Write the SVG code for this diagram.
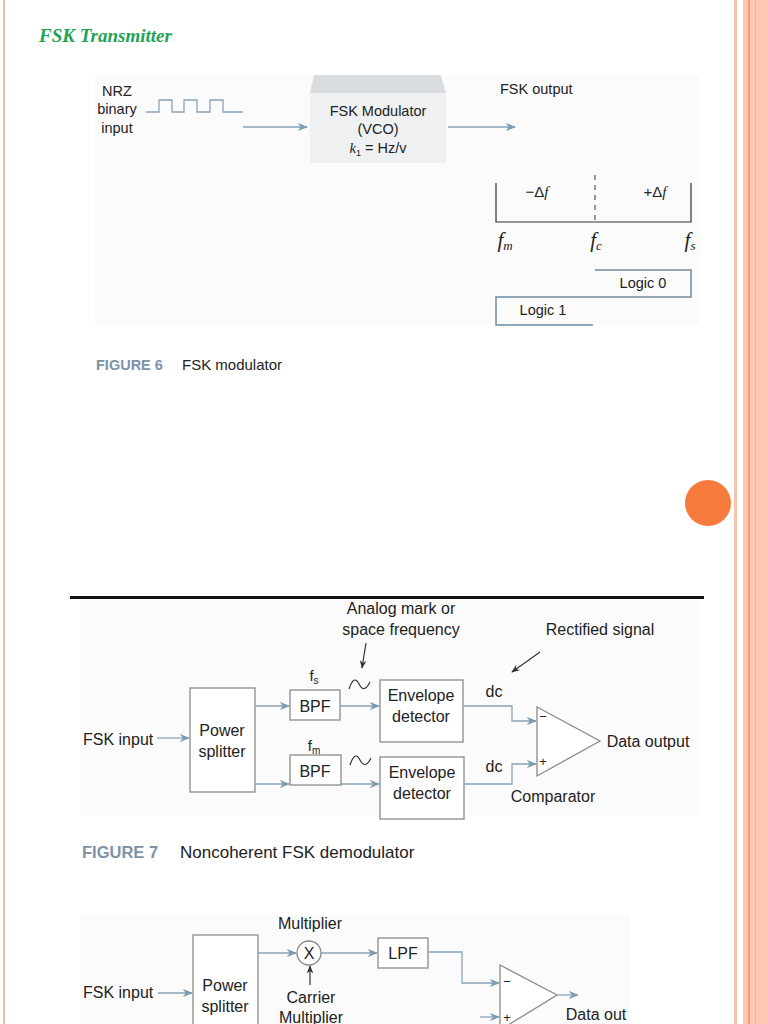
<svg xmlns="http://www.w3.org/2000/svg" width="768" height="1024" viewBox="0 0 768 1024" font-size="14">
<style>
text{font-family:"Liberation Sans",Arial,sans-serif;fill:#222}
.c{text-anchor:middle}
.box{fill:#fff;stroke:#8a8a8a;stroke-width:1.3}
.ln{fill:none;stroke:#8aa3b5;stroke-width:1.3}
.k{fill:none;stroke:#333;stroke-width:1.2}
.cap{fill:#7d93a6;font-weight:bold}
.i{font-family:"Liberation Serif",serif;font-style:italic}
.m{font-size:16px}
</style>
<defs>
<marker id="a" viewBox="0 0 10 10" refX="9" refY="5" markerWidth="8" markerHeight="8" orient="auto"><path d="M0,1L10,5L0,9L3,5z" fill="#7f9bb0"/></marker>
<marker id="b" viewBox="0 0 10 10" refX="9" refY="5" markerWidth="7" markerHeight="7" orient="auto"><path d="M0,1L10,5L0,9L3,5z" fill="#333"/></marker>
</defs>
<rect width="768" height="1024" fill="#fff"/>
<rect x="3" y="0" width="2" height="1024" fill="#f7b9a6"/>
<rect x="734" y="0" width="3" height="1024" fill="#f7c3b3"/>
<rect x="743" y="0" width="25" height="1024" fill="#fdc8b6"/>
<rect x="748" y="0" width="2" height="1024" fill="#f4a070"/>
<rect x="755" y="0" width="1" height="1024" fill="#f3b09a"/>
<text x="39" y="42" style="font-family:'Liberation Serif',serif;font-style:italic;font-weight:bold;font-size:19px;fill:#1fa355">FSK Transmitter</text>

<g id="fig6">
<rect x="95" y="75" width="605" height="250" fill="#fbfbfb"/>
<g id="nrz"><text x="117" y="96" class="c" font-size="14.5">NRZ</text><text x="117" y="114" class="c" font-size="14.5">binary</text><text x="117" y="133" class="c" font-size="14.5">input</text>
<path class="ln" stroke-width="1.6" d="M146,112H159V100H172V112H184V100H197V112H210V100H223V112H243"/></g>
<g id="mod"><rect x="310" y="93" width="136" height="70" fill="#eef0f2"/><path d="M314,75H441L446,93H310z" fill="#dadde0"/>
<text x="378" y="116" class="c" font-size="14.5">FSK Modulator</text><text x="378" y="134" class="c" font-size="14.5">(VCO)</text><text x="378" y="153" class="c" font-size="14.5"><tspan class="i">k</tspan><tspan font-size="9" dy="3">1</tspan><tspan dy="-3"> = Hz/v</tspan></text></g>
<text x="500" y="94" font-size="14.5">FSK output</text>
<g id="spec">
<path class="k" d="M496,183V222H691V183"/>
<path d="M595,175V222" stroke="#333" stroke-width="1" stroke-dasharray="5,5"/>
<text x="537" y="197" class="c" font-size="15">−Δ<tspan class="i">f</tspan></text><text x="655" y="197" class="c" font-size="15">+Δ<tspan class="i">f</tspan></text>
<text x="505" y="247" class="c i" font-size="21">f<tspan font-size="13" dy="3">m</tspan></text>
<text x="596" y="247" class="c i" font-size="21">f<tspan font-size="13" dy="3">c</tspan></text>
<text x="690" y="247" class="c i" font-size="21">f<tspan font-size="13" dy="3">s</tspan></text>
<path d="M595,270H691V297H496V325H593" fill="none" stroke="#6f8aa0" stroke-width="1.5"/>
<text x="643" y="288" class="c" font-size="14.5">Logic 0</text><text x="543" y="315" class="c" font-size="14.5">Logic 1</text>
</g>
<g id="c6"><path class="ln" marker-end="url(#a)" d="M243,127H307"/><path class="ln" marker-end="url(#a)" d="M448,127H515"/></g>
<text x="96" y="370" class="cap" font-size="14.5">FIGURE 6</text><text x="182" y="370" font-size="15">FSK modulator</text>
</g>

<circle cx="708" cy="503" r="23" fill="#f77b3c"/>

<g id="fig7">
<rect x="80" y="600" width="620" height="215" fill="#fbfbfb"/>
<rect x="70" y="596" width="634" height="3" fill="#111"/>
<text x="401" y="614" class="c m">Analog mark or</text><text x="401" y="635" class="c m">space frequency</text>
<text x="600" y="635" class="c m">Rectified signal</text>
<path class="k" marker-end="url(#b)" d="M366,643L362,668"/><path class="k" marker-end="url(#b)" d="M540,652L512,672"/>
<g id="ps1"><rect class="box" x="190" y="688" width="65" height="104"/><text x="222" y="736" class="c m">Power</text><text x="222" y="757" class="c m">splitter</text></g>
<text x="83" y="745" class="m">FSK input</text>
<g id="bpf1"><rect class="box" x="290" y="690" width="50" height="30"/><text x="315" y="712" class="c m">BPF</text><text x="314" y="681" class="c" font-size="15">f<tspan font-size="10" dy="3">s</tspan></text></g>
<g id="bpf2"><rect class="box" x="290" y="755" width="51" height="30"/><text x="315" y="777" class="c m">BPF</text><text x="314" y="751" class="c" font-size="15">f<tspan font-size="10" dy="3">m</tspan></text></g>
<path class="k" stroke-width="2" d="M349,689Q354,674 359,684T370,682"/>
<path class="k" stroke-width="2" d="M350,765Q355,750 360,760T371,758"/>
<g id="env1"><rect class="box" x="380" y="680" width="83" height="62"/><text x="421" y="701" class="c m">Envelope</text><text x="421" y="722" class="c m">detector</text></g>
<g id="env2"><rect class="box" x="380" y="757" width="84" height="62"/><text x="422" y="778" class="c m">Envelope</text><text x="422" y="799" class="c m">detector</text></g>
<text x="494" y="697" class="c m">dc</text><text x="494" y="772" class="c m">dc</text>
<g id="cmp1"><path class="box" d="M537,707L600,741L537,776z"/><text x="543" y="721" class="c" font-size="13">−</text><text x="543" y="766" class="c" font-size="13">+</text></g>
<text x="648" y="747" class="c m">Data output</text><text x="553" y="802" class="c m">Comparator</text>
<g id="c7">
<path class="ln" marker-end="url(#a)" d="M157,738H189"/>
<path class="ln" marker-end="url(#a)" d="M255,706H289"/><path class="ln" marker-end="url(#a)" d="M255,784H289"/>
<path class="ln" marker-end="url(#a)" d="M340,706H379"/><path class="ln" marker-end="url(#a)" d="M341,784H379"/>
<path class="ln" marker-end="url(#a)" d="M463,706H512V721H536"/><path class="ln" marker-end="url(#a)" d="M464,784H512V764H536"/>
</g>
<text x="82" y="858" class="cap" font-size="16.5">FIGURE 7</text><text x="180" y="858" font-size="17">Noncoherent FSK demodulator</text>
</g>

<g id="fig8">
<rect x="80" y="915" width="550" height="109" fill="#fbfbfb"/>
<g id="ps2"><rect class="box" x="193" y="935" width="65" height="100"/><text x="225" y="991" class="c m">Power</text><text x="225" y="1012" class="c m">splitter</text></g>
<text x="83" y="998" class="m">FSK input</text>
<text x="310" y="929" class="c m">Multiplier</text>
<g id="mul"><circle cx="309" cy="953" r="12" class="box"/><text x="309" y="959" class="c m">X</text></g>
<text x="311" y="1003" class="c m">Carrier</text><text x="311" y="1023" class="c m">Multiplier</text>
<g id="lpf"><rect class="box" x="378" y="938" width="50" height="30"/><text x="403" y="959" class="c m">LPF</text></g>
<g id="cmp2"><path class="box" d="M500,965L557,995L500,1030z"/><text x="507" y="986" class="c" font-size="13">−</text><text x="507" y="1022" class="c" font-size="13">+</text></g>
<text x="596" y="1020" class="c m">Data out</text>
<g id="c8">
<path class="ln" marker-end="url(#a)" d="M158,993H192"/>
<path class="ln" marker-end="url(#a)" d="M258,953H296"/>
<path class="k" marker-end="url(#b)" d="M310,985V966"/>
<path class="ln" marker-end="url(#a)" d="M321,953H377"/>
<path class="ln" marker-end="url(#a)" d="M428,952H462V983H499"/>
<path class="ln" marker-end="url(#a)" d="M480,1017H499"/>
<path class="ln" marker-end="url(#a)" d="M557,995H578"/>
</g>
</g>
</svg>
